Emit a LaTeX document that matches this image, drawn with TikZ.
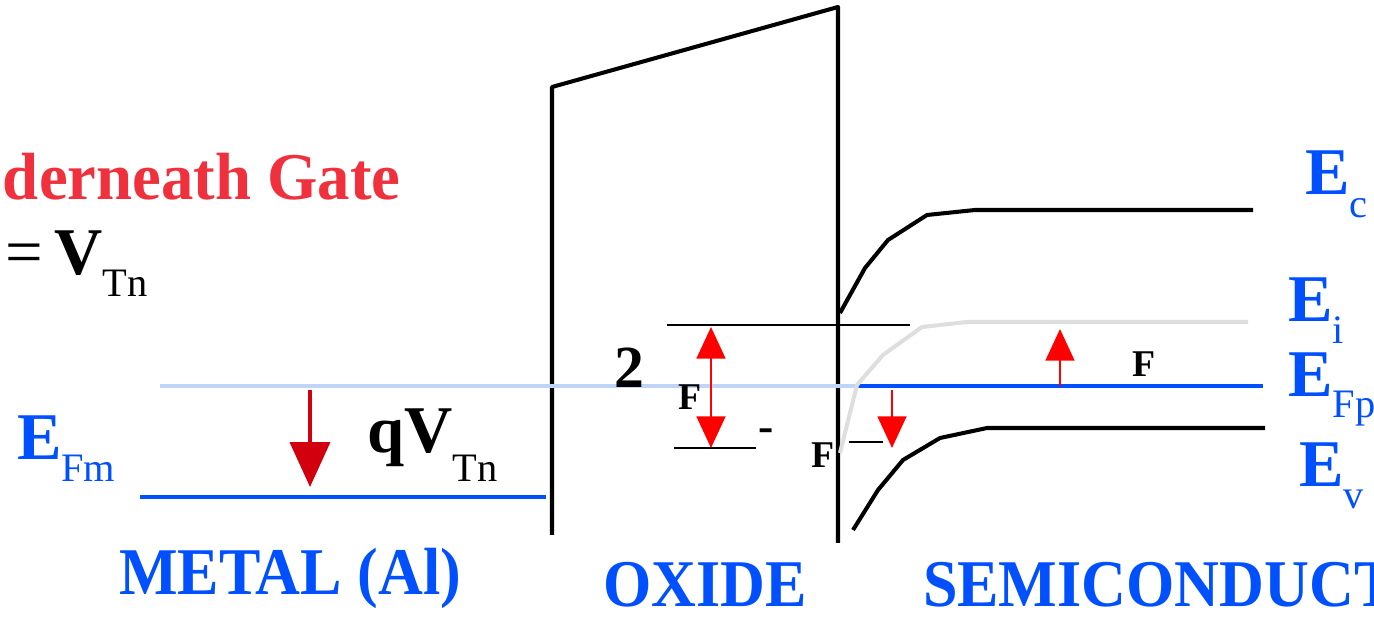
\documentclass[tikz,border=0pt]{standalone}
\usepackage{fontspec}
\setmainfont{Liberation Serif}
\newfontfamily\narrowfont[FakeStretch=0.93]{Liberation Serif}
\newfontfamily\gatefont[FakeStretch=0.97]{Liberation Serif}
\usepackage{xcolor}
\usetikzlibrary{arrows.meta}

\definecolor{lblblue}{RGB}{0,80,255}
\definecolor{lightfermi}{RGB}{192,212,248}
\definecolor{gatered}{RGB}{240,48,60}
\definecolor{darkred}{RGB}{210,0,15}
\definecolor{intrgray}{RGB}{222,222,222}

\newcommand{\bigfont}{\fontsize{38}{40}\selectfont\bfseries}
\newcommand{\subfont}{\fontsize{23}{24}\selectfont\mdseries}
\newcommand{\lvl}[3]{#1\raisebox{-#3}{\subfont #2}}

\begin{document}
\begin{tikzpicture}[x=0.02cm, y=-0.02cm,
  lbl/.style={anchor=base west, inner sep=0pt, outer sep=0pt, text depth=0pt, font=\bigfont},
  small/.style={anchor=base west, inner sep=0pt, outer sep=0pt, font=\fontsize{21.5}{22}\selectfont\bfseries},
  region/.style={lbl, text=lblblue, font=\narrowfont\bigfont},
  band/.style={line width=2.3pt, line join=round},
  wall/.style={line width=2.3pt, line join=round},
  fermi/.style={line width=2.6pt, draw=lblblue},
  bigarrow/.style={draw=darkred, line width=2.2pt, -{Triangle[length=25.5pt, width=22.7pt]}},
  arrow/.style={draw=red, line width=1.2pt, -{Triangle[length=18pt, width=16.4pt]}},
  darrow/.style={draw=red, line width=1.2pt, {Triangle[length=18pt, width=16.4pt]}-{Triangle[length=18pt, width=16.4pt]}}
]
\clip (0,0) rectangle (1374,621);
\useasboundingbox (0,0) rectangle (1374,621);

% Oxide walls
\coordinate (oxbl) at (552,535);
\coordinate (oxtl) at (552,87);
\coordinate (oxtr) at (838,7);
\coordinate (oxbr) at (838,543);
\draw[wall] (oxbl) -- (oxtl) -- (oxtr) -- (oxbr);

% Fermi levels
\coordinate (fml) at (140,497);
\coordinate (fmr) at (546,497);
\draw[fermi] (fml) -- (fmr);
\coordinate (efl) at (160,386);
\coordinate (efm) at (856,386);
\coordinate (efr) at (1263,386);
\draw[fermi, draw=lightfermi] (efl) -- (efm);
\draw[fermi] (efm) -- (efr);

% Semiconductor bands
\draw[band] (840,313) -- (865,268) -- (888,240) -- (927,215) -- (975,210) -- (1253,210);
\draw[band, draw=intrgray] (840,453) -- (857,385) -- (883,355) -- (922,327) -- (967,322) -- (1248,322);
\draw[band] (853,530) -- (878,490) -- (903,460) -- (940,438) -- (987,428) -- (1265,428);

% Reference lines
\coordinate (topl) at (667,325);
\coordinate (topr) at (910,325);
\draw[line width=0.6pt] (topl) -- (topr);
\coordinate (botl) at (674,448);
\coordinate (botr) at (756,448);
\draw[line width=1.1pt] (botl) -- (botr);
\coordinate (shl) at (849,442);
\coordinate (shr) at (883,442);
\draw[line width=0.7pt] (shl) -- (shr);

% Arrows
\coordinate (qa) at (310,390);
\coordinate (qb) at (310,487);
\draw[bigarrow] (qa) -- (qb);
\coordinate (da) at (711,327);
\coordinate (db) at (711,448);
\draw[darrow] (da) -- (db);
\coordinate (sa) at (892,390);
\coordinate (sb) at (892,448);
\draw[arrow] (sa) -- (sb);
\coordinate (ua) at (1060,386);
\coordinate (ub) at (1060,329);
\draw[arrow] (ua) -- (ub);

% Labels
\node[lbl, text=gatered, font=\gatefont\bigfont] (gate) at (3,200) {derneath Gate};
\node[lbl] (vtn) at (6,275) {{\mdseries=}\hspace{6pt}\lvl{V}{Tn}{12.5pt}};
\node[lbl] (qv) at (367,453) {q\lvl{V}{Tn}{16pt}};
\node[lbl, text=lblblue] (efmlbl) at (17,460) {\lvl{E}{Fm}{12.5pt}};
\node[lbl, text=lblblue] (eclbl) at (1305,195) {\lvl{E}{c}{13pt}};
\node[lbl, text=lblblue] (eilbl) at (1288,322) {\lvl{E}{i}{12pt}};
\node[lbl, text=lblblue] (efplbl) at (1288,397) {\lvl{E}{Fp}{11.5pt}};
\node[lbl, text=lblblue] (evlbl) at (1299,487) {\lvl{E}{v}{12pt}};
\node[lbl, font=\fontsize{34}{36}\selectfont\bfseries] (two) at (614,388) {2};
\node[small] (f1) at (678,410) {F};
\node[small] (f2) at (811,468) {F};
\node[small] (f3) at (1132,377) {F};
\node[small, font=\fontsize{26}{26}\selectfont\bfseries] (dash) at (758,442) {-};
\node[region] (metal) at (119,595) {METAL (Al)};
\node[region] (oxide) at (603,607) {OXIDE};
\node[region] (semi) at (923,607) {SEMICONDUCT};
\end{tikzpicture}
\end{document}
